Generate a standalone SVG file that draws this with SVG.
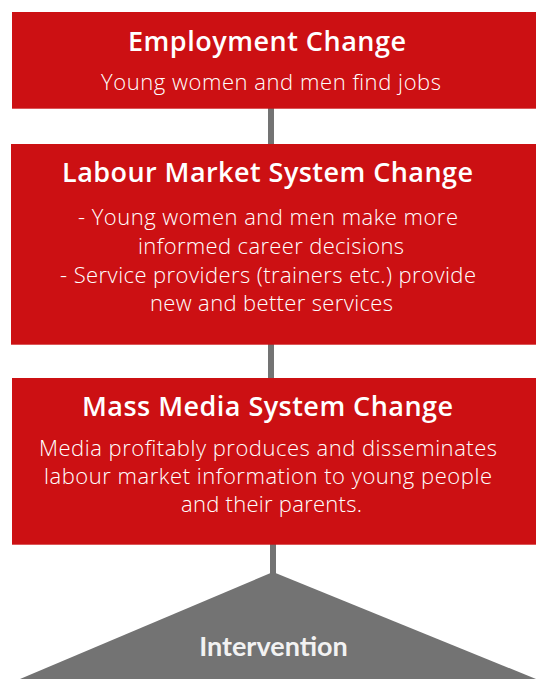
<svg xmlns="http://www.w3.org/2000/svg" width="536" height="679" viewBox="0 0 536 679">
<style>
.box{fill:#cc1013}
.t{font-family:"Open Sans",Lato,"Liberation Sans",sans-serif;fill:#fff;text-anchor:middle}
.h{font-size:27px;font-weight:600}
.b{font-size:22px;font-weight:300}
.conn{stroke:#737373;stroke-width:6}
</style>
<rect width="536" height="679" fill="#fff"/>
<g id="connectors">
<line class="conn" x1="271" y1="108" x2="271" y2="145"/>
<line class="conn" x1="271" y1="344" x2="271" y2="379"/>
<line class="conn" x1="273" y1="544" x2="273" y2="574"/>
</g>
<g id="employment">
<rect class="box" x="12" y="12" width="524" height="96.7"/>
<text class="t h" x="267" y="50.7" textLength="278" lengthAdjust="spacing">Employment Change</text>
<text class="t b" x="271" y="90" textLength="340" lengthAdjust="spacing">Young women and men find jobs</text>
</g>
<g id="labour">
<rect class="box" x="11" y="144" width="525" height="200.7"/>
<text class="t h" x="267.5" y="181.7" textLength="411" lengthAdjust="spacing">Labour Market System Change</text>
<text class="t b" x="268" y="225" textLength="380" lengthAdjust="spacing">- Young women and men make more</text>
<text class="t b" x="271" y="253.5" textLength="266" lengthAdjust="spacing">informed career decisions</text>
<text class="t b" x="268" y="282.5" textLength="416" lengthAdjust="spacing">- Service providers (trainers etc.) provide</text>
<text class="t b" x="271.5" y="311" textLength="243" lengthAdjust="spacing">new and better services</text>
</g>
<g id="massmedia">
<rect class="box" x="12" y="378" width="524" height="166.7"/>
<text class="t h" x="267.5" y="416" textLength="371" lengthAdjust="spacing">Mass Media System Change</text>
<text class="t b" x="268" y="455.7" textLength="458" lengthAdjust="spacing">Media profitably produces and disseminates</text>
<text class="t b" x="268" y="484" textLength="448" lengthAdjust="spacing">labour market information to young people</text>
<text class="t b" x="271.5" y="512.3" textLength="181" lengthAdjust="spacing">and their parents.</text>
</g>
<g id="intervention">
<polygon points="273,572 20,679 536,679" fill="#737373"/>
<text x="273.5" y="655.7" style="font-family:Lato,'Open Sans',sans-serif;text-anchor:middle;font-size:27px;font-weight:700;fill:#f2f2f2">Intervention</text>
</g>
</svg>
